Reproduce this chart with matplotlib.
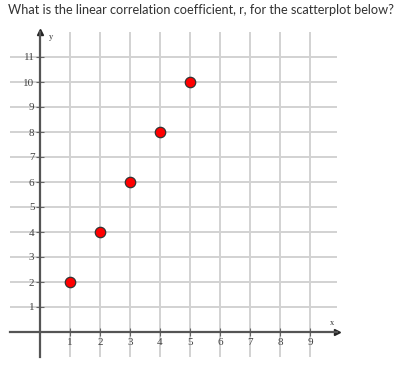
import matplotlib
matplotlib.use("Agg")
import matplotlib.pyplot as plt

# data
x_vals = [1, 2, 3, 4, 5]
y_vals = [2, 4, 6, 8, 10]
x_ticks = [1, 2, 3, 4, 5, 6, 7, 8, 9]
y_ticks = [1, 2, 3, 4, 5, 6, 7, 8, 9, 10, 11]
title = "What is the linear correlation coefficient, r, for the scatterplot below?"

W, H = 405, 366
fig = plt.figure(figsize=(W / 100, H / 100), dpi=100)
# axes box in pixels: left 10, right 337, top 32, bottom 357
ax = fig.add_axes([10 / W, (H - 357) / H, 327 / W, 325 / H])
ax.set_xlim(-1, 9.9)
ax.set_ylim(-1, 12)

ax.set_xticks(x_ticks)
ax.set_yticks(y_ticks)
ax.grid(True, color="#d2d2d2", linewidth=1.4)
ax.set_axisbelow(True)

for s in ["top", "right"]:
    ax.spines[s].set_visible(False)
for s in ["left", "bottom"]:
    ax.spines[s].set_position(("data", 0))
    ax.spines[s].set_color("#555555")
    ax.spines[s].set_linewidth(1.6)

ax.tick_params(direction="inout", length=6, width=0.8, color="#666666",
               labelsize=8, labelcolor="#444444", pad=1)
for lab in ax.get_xticklabels() + ax.get_yticklabels():
    lab.set_family("Liberation Serif")

# arrow heads on the axes
ax.plot(1, 0, ">", color="#222222", markersize=4, transform=ax.get_yaxis_transform(), clip_on=False)
ax.plot(0, 1, "^", color="#222222", markersize=4, transform=ax.get_xaxis_transform(), clip_on=False)
ax.text(0.3, 11.8, "y", family="Liberation Serif", fontsize=6, color="#333333", ha="left", va="center")
ax.text(9.75, 0.35, "x", family="Liberation Serif", fontsize=6, color="#333333", ha="center", va="center")

ax.plot(x_vals, y_vals, "o", color="red", markeredgecolor="#333333",
        markeredgewidth=0.9, markersize=7.5, zorder=5, clip_on=False)

fig.text(8 / W, 1 - 10 / H, title, family="Lato", fontsize=9.2, color="#333333",
         ha="left", va="center")

fig.savefig("out.png", dpi=100)
